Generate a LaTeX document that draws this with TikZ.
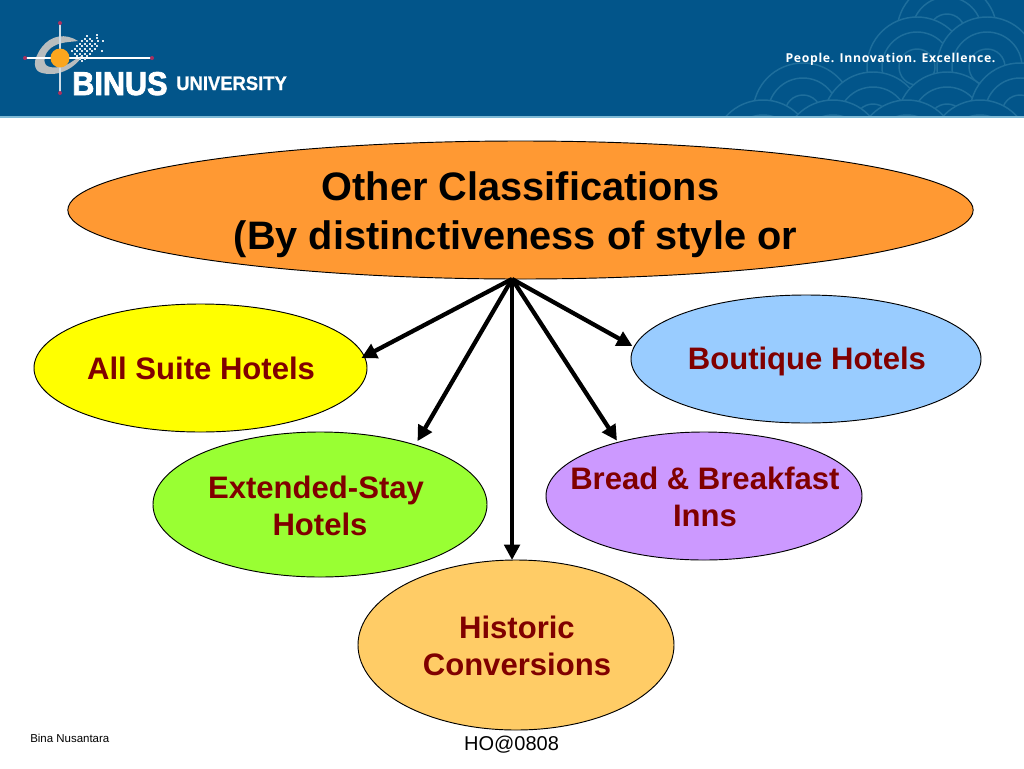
\documentclass[tikz,border=0pt]{standalone}
\usepackage{fontspec}
\setmainfont{Liberation Sans}
\newfontfamily\sloganfont[LetterSpace=5.5]{Open Sans}
\newfontfamily\binusfont[FakeBold=2.5,FakeStretch=0.93]{Liberation Sans Bold}
\newfontfamily\univfont[FakeBold=0.8,FakeStretch=0.94]{Liberation Sans Bold}
\usetikzlibrary{shapes.geometric,arrows.meta}
\definecolor{hdr}{HTML}{02558A}
\definecolor{hdrline}{HTML}{7FBAD6}
\definecolor{arcc}{HTML}{1E6E9C}
\definecolor{txt}{HTML}{800000}
\definecolor{swoosh}{HTML}{B9BDBE}
\definecolor{dot}{HTML}{A8305F}
\definecolor{ball}{HTML}{FBA61E}
\definecolor{yel}{RGB}{255,255,0}
\tikzset{
  bubble/.style={ellipse,draw=black,line width=0.7pt,inner sep=0pt,outer sep=0pt},
  lab/.style={align=center,inner sep=0pt,font=\bfseries\fontsize{23.3}{27.75}\selectfont,text=txt},
  toplab/.style={lab,text=black,font=\bfseries\fontsize{29.8}{36.75}\selectfont},
  link/.style={line width=3.2pt,-{Triangle[length=11.5pt,width=11.5pt]}},
  dome/.style={draw=arcc,line width=1.1pt,fill=hdr},
  px/.style={fill=white!85!hdr,draw=none}
}
\newcommand{\domeat}[2]{%
  \draw[dome] (#1,#2) circle[radius=50];
  \draw[dome] (#1,#2) circle[radius=35];
  \draw[dome] (#1,#2) circle[radius=18];
}
\begin{document}
\begin{tikzpicture}[x=0.75pt,y=-0.75pt]
\useasboundingbox (0,0) rectangle (1024,768);
\fill[white] (0,0) rectangle (1024,768);
% header
\fill[hdr] (0,0) rectangle (1024,116);
\fill[hdrline] (0,115.5) rectangle (1024,117.5);
\begin{scope}
  \clip (700,0) rectangle (1024,115.5);
  \domeat{947}{32}
  \domeat{917}{67}
  \domeat{987}{67}
  \domeat{803}{113}
  \domeat{873}{122}
  \domeat{947}{122}
  \domeat{1020}{113}
  \domeat{763}{150}
  \domeat{833}{150}
  \domeat{907}{150}
  \domeat{980}{150}
\end{scope}
\node[font=\sloganfont\bfseries\fontsize{9.2}{11}\selectfont,text=white,inner sep=0pt] (slogan) at (890.5,59) {People. Innovation. Excellence.};
% logo
\fill[swoosh]
  (78,41) .. controls (66,33) and (51,35) .. (42,47)
  .. controls (32,60) and (33,71) .. (42,73)
  .. controls (56,77) and (74,70) .. (83,55)
  .. controls (78,58) and (74,60) .. (70,63)
  .. controls (62,68) and (50,69) .. (46,65)
  .. controls (42,60) and (46,50) .. (54,46)
  .. controls (61,42) and (70,42) .. (78,41) -- cycle;
\draw[white!80!hdr,line width=0.9pt] (60,23) -- (60,93);
\draw[white,line width=0.9pt] (25,58) -- (152,58);
\foreach \p in {(60,23),(60,93),(25,58),(152,58)} \fill[dot] \p circle[radius=2];
\fill[ball] (60,58) circle[radius=9.5];
\foreach \i in {0,...,6} \foreach \j in {-2,...,2}
  \fill[px] ({77+2.5*\i+2.5*\j-1},{56-2.5*\i+2.5*\j-1}) rectangle ++(2,2);
\foreach \a/\b in {97/35,97/38,98/41,103/41,102/51}
  \fill[px] (\a-1,\b-1) rectangle (\a+1,\b+1);
\node[font=\binusfont\fontsize{24.7}{26}\selectfont,text=white,inner sep=0pt,anchor=base west] (binus) at (72,95) {BINUS};
\node[font=\univfont\fontsize{14.7}{16}\selectfont,text=white,inner sep=0pt,anchor=base west] (univ) at (176,90) {UNIVERSITY};
% bubbles
\node[bubble,fill={rgb,255:red,255;green,153;blue,51},minimum width=679pt,minimum height=103.5pt,label={[toplab,yshift=-3.2pt]center:Other Classifications\\(By distinctiveness of style or\hspace*{7.5pt}}] (top) at (520.5,210) {};
\node[bubble,fill=yel,minimum width=249.75pt,minimum height=96pt,label={[lab,yshift=-0.5pt,xshift=0.4pt]center:All Suite Hotels}] (suite) at (200.5,368) {};
\node[bubble,fill={rgb,255:red,153;green,204;blue,255},minimum width=262.5pt,minimum height=96pt,label={[lab,yshift=-1.5pt,xshift=0.7pt]center:Boutique Hotels}] (boutique) at (806,359) {};
\node[bubble,fill={rgb,255:red,153;green,255;blue,51},minimum width=250.5pt,minimum height=108.75pt,label={[lab,yshift=-1pt]center:Extended-Stay\hspace*{6pt}\\Hotels}] (stay) at (320,504.5) {};
\node[bubble,fill={rgb,255:red,204;green,153;blue,255},minimum width=237pt,minimum height=96pt,label={[lab,yshift=-0.5pt,xshift=0.7pt]center:Bread \& Breakfast\\Inns}] (bread) at (704,496) {};
\node[bubble,fill={rgb,255:red,255;green,204;blue,102},minimum width=237pt,minimum height=127.5pt,label={[lab,yshift=-0.5pt,xshift=0.7pt]center:Historic\\Conversions}] (historic) at (516,645) {};
% links
\draw[link,shorten >=-2.5pt] (top.263) -- (suite.4.8);
\draw[link,shorten >=3.3pt] (top.263) -- (stay.32.1);
\draw[link] (top.263) -- (top.263 |- historic.north);
\draw[link,shorten >=1.5pt] (top.263) -- (bread.148.9);
\draw[link,shorten >=1.5pt] (top.263) -- (boutique.176.2);
% footer
\node[font=\fontsize{8.6}{10}\selectfont,inner sep=0pt,anchor=west] (foot) at (30,738.5) {Bina Nusantara};
\node[font=\fontsize{15}{18}\selectfont,inner sep=0pt] (ho) at (511.5,745) {HO@0808};
\end{tikzpicture}
\end{document}
